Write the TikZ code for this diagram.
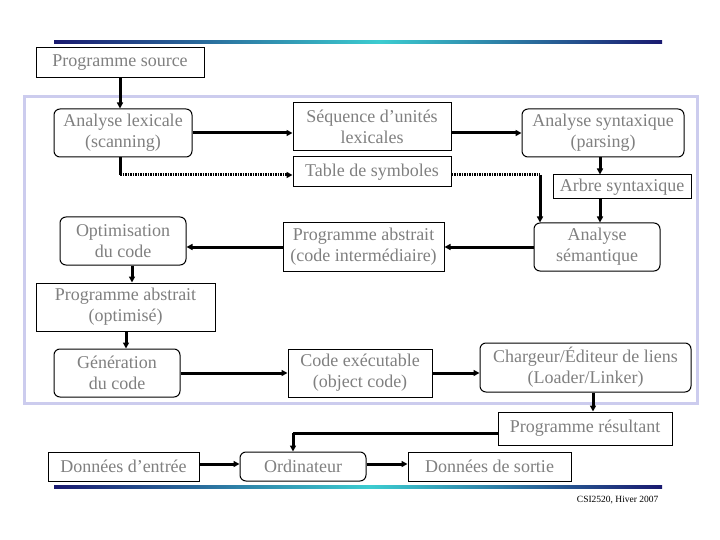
\documentclass[tikz,border=0pt]{standalone}
\usepackage{fontspec}
\setmainfont{Liberation Serif}
\usetikzlibrary{arrows.meta}
\definecolor{txtgray}{HTML}{808080}
\definecolor{frame}{HTML}{CCCCEE}
\definecolor{navy}{HTML}{1A1A70}
\definecolor{cyanl}{HTML}{3CCCD0}
\begin{document}
\begin{tikzpicture}[x=1pt,y=-1pt,
  box/.style={draw=black,line width=1pt,inner sep=0pt,align=center,text=txtgray,
    font=\fontsize{18}{21}\selectfont},
  rbox/.style={box,rounded corners=6pt},
  arr/.style={line width=3pt,-{Triangle[length=6pt,width=6pt]}},
  seg/.style={line width=3pt},
  dots/.style={line width=3pt,dash pattern=on 1.5pt off 1pt}]
\useasboundingbox (0,0) rectangle (720,540);
\fill[white] (0,0) rectangle (720,540);
% gradient rules
\shade[left color=navy,right color=cyanl] (54,40.5) rectangle (380,43.5);
\shade[left color=cyanl,right color=navy] (380,40.5) rectangle (662,43.5);
\shade[left color=navy,right color=cyanl] (54,485.5) rectangle (370,488.5);
\shade[left color=cyanl,right color=navy] (370,485.5) rectangle (662,488.5);
% lavender frame
\draw[frame,line width=3pt] (24,97) rectangle (697,403);
% nodes
\node[box,minimum width=168,minimum height=30] (src) at (120,63) {Programme source};
\node[rbox,minimum width=138,minimum height=48] (lex) at (123,133) {Analyse lexicale\\(scanning)};
\node[box,minimum width=158,minimum height=48] (seq) at (372,127) {Séquence d’unités\\lexicales};
\node[box,minimum width=158,minimum height=30] (tab) at (372,172) {Table de symboles};
\node[rbox,minimum width=162,minimum height=48] (syn) at (603,133) {Analyse syntaxique\\(parsing)};
\node[box,minimum width=138,minimum height=24] (arbre) at (622,187) {Arbre syntaxique};
\node[rbox,minimum width=126,minimum height=48] (sem) at (597,247) {Analyse\\sémantique};
\node[box,minimum width=161,minimum height=48] (pai) at (363.5,247) {Programme abstrait\\(code intermédiaire)};
\node[rbox,minimum width=126,minimum height=48] (opt) at (123,241) {Optimisation\\du code};
\node[box,minimum width=179,minimum height=48] (pao) at (125.5,307) {Programme abstrait\\(optimisé)};
\node[rbox,minimum width=126,minimum height=48] (gen) at (117,373) {Génération\\du code};
\node[box,minimum width=144,minimum height=48] (codex) at (360,373) {Code exécutable\\(object code)};
\node[rbox,minimum width=211,minimum height=49] (charg) at (585.5,367.5) {Chargeur/Éditeur de liens\\(Loader/Linker)};
\node[box,minimum width=174,minimum height=33] (pres) at (585,428.5) {Programme résultant};
\node[box,minimum width=151,minimum height=29] (din) at (123.5,466.5) {Données d’entrée};
\node[rbox,minimum width=126,minimum height=29] (ord) at (303,466.5) {Ordinateur};
\node[box,minimum width=163,minimum height=29] (dsort) at (489.5,466.5) {Données de sortie};
\node[font=\fontsize{9.5}{11}\selectfont,anchor=east] (foot) at (662,500) {CSI2520, Hiver 2007};
% coordinates
\coordinate (k1) at (120,175);
\coordinate (k2) at (540,175);
\coordinate (k3) at (293,433);
% connectors
\draw[arr] (src.south) -- (src.south |- lex.north);
\draw[arr] (lex.east) -- (lex.east -| seq.west);
\draw[seg] (lex.south -| k1) -- (k1);
\draw[dots,-{Triangle[length=6pt,width=6pt]}] (k1) -- (k1 -| tab.west);
\draw[arr] (syn.west -| seq.east) -- (syn.west);
\draw[arr] ([xshift=-3pt]syn.south) -- ([xshift=-3pt]syn.south |- arbre.north);
\draw[dots] (k1 -| tab.east) -- (k2);
\draw[arr] (k2) -- (k2 |- sem.north);
\draw[arr] ([xshift=3pt]sem.north |- arbre.south) -- ([xshift=3pt]sem.north);
\draw[arr] (sem.west) -- (pai.east);
\draw[arr] (pai.west) -- (pai.west -| opt.east);
\draw[arr] ([xshift=9pt]opt.south) -- ([xshift=9pt]opt.south |- pao.north);
\draw[arr] ([xshift=9pt]gen.north |- pao.south) -- ([xshift=9pt]gen.north);
\draw[arr] (gen.east) -- (codex.west);
\draw[arr] (codex.east) -- (codex.east -| charg.west);
\draw[arr] ([xshift=7.5pt]charg.south) -- ([xshift=7.5pt]charg.south |- pres.north);
\draw[seg] (pres.west |- k3) -- (k3);
\draw[arr] (k3) -- (k3 |- ord.north);
\draw[arr] ([yshift=2.5pt]din.east) -- ([yshift=2.5pt]ord.west);
\draw[arr] ([yshift=2.5pt]ord.east) -- ([yshift=2.5pt]dsort.west);
\end{tikzpicture}
\end{document}
